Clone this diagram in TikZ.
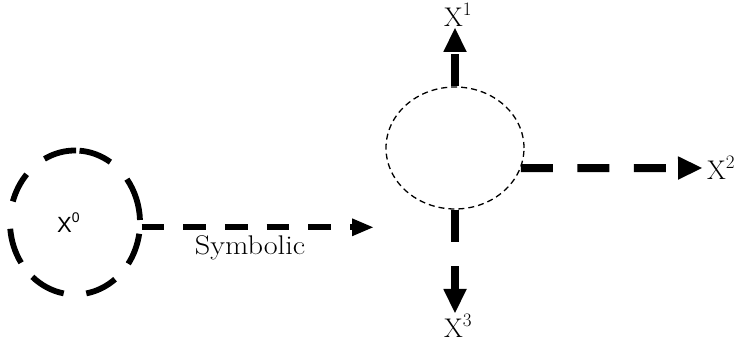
\documentclass[tikz,border=0pt]{standalone}
\usepackage{fontspec}
\usepackage{graphicx}
\newfontfamily\labsans{Liberation Sans}
\usetikzlibrary{arrows.meta,shapes.geometric}
\newcommand{\mysup}[1]{\raisebox{11pt}{\fontsize{19}{19}\selectfont #1}}
\begin{document}
\begin{tikzpicture}[x=1pt,y=1pt,
  heavydash/.style={line width=5.6pt, dash pattern=on 22.7pt off 19pt,
    -{Triangle[length=21pt,width=18pt,line width=0pt]}},
  bigdash/.style={line width=8pt, dash pattern=on 32pt off 24.5pt,
    -{Triangle[length=24pt,width=23.5pt,line width=0pt]}},
  ringdash/.style={line width=5.8pt, line cap=butt},
  thinring/.style={ellipse, draw, line width=1.3pt, dash pattern=on 6pt off 4pt,
    minimum width=138pt, minimum height=122pt, inner sep=0pt},
  serlab/.style={font=\fontsize{27}{27}\selectfont, inner sep=0pt},
]
\useasboundingbox (0,0) rectangle (737,342);

% left ring
\node (c0) [ellipse, minimum width=130pt, minimum height=144pt, inner sep=0pt] at (75,119.5) {};
\foreach \a/\b in {89/118, 57/86, 2/37, -35/-9, -80/-52, -131/-100, 185/214, 138/163} {
  \draw[ringdash] ([shift={(\a:65pt and 72pt)}]c0.center)
    arc[start angle=\a, end angle=\b, x radius=65pt, y radius=72pt];
}
\node (x0) [anchor=base west, inner sep=0pt] at (57,109)
  {\labsans\fontsize{22}{22}\selectfont X\raisebox{10pt}{\fontsize{14}{14}\selectfont 0}};

% symbolic arrow
\coordinate (s0) at (141.5,114.7);
\coordinate (s1) at (373,114.7);
\draw[heavydash] (s0) -- (s1);
\node (sym) [anchor=base, inner sep=0pt, font=\fontsize{27}{27}\selectfont] at (250,87)
  {\scalebox{1.12}[1]{Symbolic}};

% right ring
\node (c1) [thinring] at (455,194) {};
\coordinate (t1) at (455,314);
\coordinate (t2) at (702,174);
\coordinate (t3) at (455,29);
\draw[bigdash] (c1.north) -- (t1);
\draw[bigdash] (c1.-17.1) -- (t2);
\draw[bigdash] (c1.south) -- (t3);

\node (x1) [serlab, anchor=base west] at (444,315) {X\mysup{1}};
\node (x2) [serlab, anchor=base west] at (707,162) {X\mysup{2}};
\node (x3) [serlab, anchor=base west] at (444,4.5) {X\mysup{3}};
\end{tikzpicture}
\end{document}
